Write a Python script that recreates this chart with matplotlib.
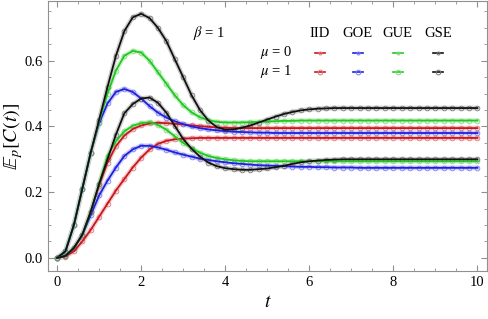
import numpy as np
import matplotlib
matplotlib.use("Agg")
import matplotlib.pyplot as plt
from matplotlib.ticker import MultipleLocator, FormatStrFormatter

plt.rcParams['font.family'] = ['Liberation Serif', 'DejaVu Serif']
plt.rcParams['mathtext.fontset'] = 'stix'

# sample times (step 0.2 from 0 to 10)
t = np.round(np.arange(51) * 0.2, 1)

# mu = 0
iid_0 = [0, 0.006, 0.03, 0.07, 0.14, 0.22, 0.29, 0.34, 0.372, 0.392, 0.403,
         0.409, 0.411, 0.41, 0.408, 0.406, 0.403, 0.401, 0.399, 0.397, 0.396,
         0.395, 0.395, 0.395, 0.395, 0.395, 0.395, 0.395, 0.395, 0.395, 0.395,
         0.395, 0.395, 0.395, 0.395, 0.395, 0.395, 0.395, 0.395, 0.395, 0.395,
         0.395, 0.395, 0.395, 0.395, 0.395, 0.395, 0.395, 0.395, 0.395, 0.395]
goe_0 = [0, 0.02, 0.1, 0.21, 0.32, 0.41, 0.47, 0.505, 0.514, 0.505, 0.485,
         0.462, 0.442, 0.427, 0.416, 0.407, 0.4, 0.395, 0.391, 0.388, 0.386,
         0.384, 0.383, 0.382, 0.381, 0.381, 0.38, 0.38, 0.38, 0.38, 0.38,
         0.38, 0.38, 0.38, 0.38, 0.38, 0.38, 0.38, 0.38, 0.38, 0.38,
         0.38, 0.38, 0.38, 0.38, 0.38, 0.38, 0.38, 0.38, 0.38, 0.38]
gue_0 = [0, 0.02, 0.1, 0.21, 0.32, 0.415, 0.5, 0.57, 0.615, 0.63, 0.625,
         0.6, 0.565, 0.53, 0.495, 0.465, 0.443, 0.428, 0.419, 0.414, 0.412,
         0.412, 0.412, 0.413, 0.414, 0.415, 0.416, 0.417, 0.417, 0.418, 0.418,
         0.418, 0.418, 0.418, 0.418, 0.418, 0.418, 0.418, 0.418, 0.418, 0.418,
         0.418, 0.418, 0.418, 0.418, 0.418, 0.418, 0.418, 0.418, 0.418, 0.418]
gse_0 = [0, 0.02, 0.1, 0.21, 0.32, 0.42, 0.52, 0.615, 0.69, 0.732, 0.743,
         0.73, 0.7, 0.66, 0.605, 0.55, 0.495, 0.45, 0.418, 0.398, 0.39,
         0.391, 0.396, 0.403, 0.412, 0.421, 0.43, 0.438, 0.444, 0.449, 0.452,
         0.454, 0.455, 0.456, 0.456, 0.456, 0.456, 0.456, 0.456, 0.456, 0.456,
         0.456, 0.456, 0.456, 0.456, 0.456, 0.456, 0.456, 0.456, 0.456, 0.456]

# mu = 1
iid_1 = [0, 0.004, 0.02, 0.05, 0.085, 0.125, 0.165, 0.205, 0.24, 0.275, 0.305,
         0.33, 0.347, 0.356, 0.361, 0.363, 0.364, 0.365, 0.365, 0.365, 0.365,
         0.365, 0.365, 0.365, 0.365, 0.365, 0.365, 0.365, 0.365, 0.365, 0.365,
         0.365, 0.365, 0.365, 0.365, 0.365, 0.365, 0.365, 0.365, 0.365, 0.365,
         0.365, 0.365, 0.365, 0.365, 0.365, 0.365, 0.365, 0.365, 0.365, 0.365]
goe_1 = [0, 0.006, 0.03, 0.07, 0.13, 0.19, 0.235, 0.275, 0.31, 0.33, 0.341,
         0.341, 0.336, 0.329, 0.321, 0.314, 0.308, 0.302, 0.298, 0.294, 0.291,
         0.288, 0.286, 0.284, 0.282, 0.281, 0.28, 0.279, 0.278, 0.277, 0.277,
         0.276, 0.276, 0.275, 0.275, 0.275, 0.274, 0.274, 0.274, 0.274, 0.274,
         0.274, 0.274, 0.274, 0.274, 0.274, 0.274, 0.274, 0.274, 0.274, 0.274]
gue_1 = [0, 0.006, 0.03, 0.07, 0.14, 0.225, 0.31, 0.355, 0.385, 0.402, 0.41,
         0.413, 0.405, 0.39, 0.37, 0.35, 0.334, 0.32, 0.31, 0.304, 0.3,
         0.297, 0.295, 0.294, 0.294, 0.294, 0.294, 0.294, 0.294, 0.294, 0.294,
         0.294, 0.294, 0.294, 0.294, 0.294, 0.294, 0.294, 0.294, 0.294, 0.294,
         0.294, 0.294, 0.294, 0.294, 0.294, 0.294, 0.294, 0.294, 0.294, 0.294]
gse_1 = [0, 0.006, 0.03, 0.07, 0.14, 0.225, 0.3, 0.375, 0.44, 0.468, 0.485,
         0.488, 0.472, 0.442, 0.402, 0.362, 0.332, 0.308, 0.29, 0.279, 0.273,
         0.27, 0.268, 0.268, 0.27, 0.272, 0.276, 0.28, 0.286, 0.291, 0.294,
         0.296, 0.298, 0.299, 0.3, 0.3, 0.3, 0.3, 0.3, 0.3, 0.3,
         0.3, 0.3, 0.3, 0.3, 0.3, 0.3, 0.3, 0.3, 0.3, 0.3]

ensembles = ['IID', 'GOE', 'GUE', 'GSE']
line_colors = ['#c8161d', '#1f1fe0', '#1fc81f', '#111111']
mark_colors = ['#e07a80', '#8080ee', '#80dd80', '#7a7a7a']
band_colors = ['#f3cdcf', '#cfcff7', '#cff1cf', '#d0d0d0']
series = {0: [iid_0, goe_0, gue_0, gse_0], 1: [iid_1, goe_1, gue_1, gse_1]}

fig = plt.figure(figsize=(4.88, 3.19), dpi=100)
ax = fig.add_axes([0.098, 0.1505, 0.900, 0.8465])

for mu in [0, 1]:
    for vals, lc, mc, bc in zip(series[mu], line_colors, mark_colors, band_colors):
        ax.plot(t, vals, color=bc, lw=3.4, solid_capstyle='round', zorder=1)
        ax.plot(t, vals, ls='none', marker='o', ms=3.4, mfc='none',
                mec=mc, mew=0.6, zorder=2)
        ax.plot(t, vals, color=lc, lw=1.3, zorder=3)

ax.set_xlim(-0.22, 10.23)
ax.set_ylim(-0.04, 0.782)
ax.xaxis.set_major_locator(MultipleLocator(2))
ax.xaxis.set_minor_locator(MultipleLocator(0.5))
ax.yaxis.set_major_locator(MultipleLocator(0.2))
ax.yaxis.set_minor_locator(MultipleLocator(0.05))
ax.xaxis.set_major_formatter(FormatStrFormatter('%d'))
ax.yaxis.set_major_formatter(FormatStrFormatter('%.1f'))
ax.tick_params(which='both', direction='in', top=True, right=True,
               color='#909090', labelsize=10.5)
ax.tick_params(which='major', length=4)
ax.tick_params(which='minor', length=2.2)
for s in ax.spines.values():
    s.set_color('#909090')

ax.set_xlabel(r'$t$', fontsize=14, labelpad=4)
ax.set_ylabel(r'$\mathbb{E}_p[C(t)]$', fontsize=14.5, labelpad=0)

# legend grid
tr = ax.transAxes
ax.text(0.330, 0.881, r'$\beta$ = 1', transform=tr, fontsize=10.5,
        ha='left', va='center')
col_x = [0.620, 0.706, 0.797, 0.888]
for cx, name in zip(col_x, ensembles):
    ax.text(cx, 0.881, name, transform=tr, fontsize=10.5,
            ha='center', va='center')
row_y = {0: 0.808, 1: 0.738}
row_ms = {0: 2.2, 1: 3.4}
for mu, ry in row_y.items():
    ax.text(0.519, ry, r'$\mu$ = %d' % mu, transform=tr, fontsize=10.5,
            ha='center', va='center')
    for cx, lc, mc in zip(col_x, line_colors, mark_colors):
        ax.plot([cx - 0.012, cx + 0.012], [ry, ry], color=lc, lw=1.2,
                transform=tr)
        ax.plot([cx], [ry], ls='none', marker='o', ms=row_ms[mu], mfc='none',
                mec=mc, mew=0.7, transform=tr)

fig.savefig('out.png', dpi=100)
